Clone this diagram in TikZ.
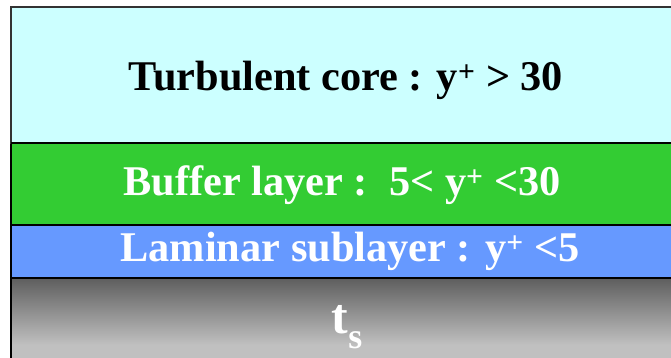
\documentclass[tikz,border=0pt]{standalone}
\usepackage{fontspec}
\setmainfont{Liberation Serif}
\definecolor{corecol}{HTML}{CCFFFF}
\definecolor{buffercol}{HTML}{33CC33}
\definecolor{laminarcol}{HTML}{6699FF}
\definecolor{walltop}{HTML}{5E5E5E}
\definecolor{wallbot}{HTML}{C0C0C0}
\begin{document}
\begin{tikzpicture}[x=1bp,y=-1bp,
  layer/.style={draw=black,line width=2bp},
  lbl/.style={font=\bfseries\fontsize{42.5}{46}\selectfont,inner sep=0pt}]
\useasboundingbox (0,0) rectangle (671,357);
% wall with gradient
\shade[top color=walltop,bottom color=wallbot] (11,278) rectangle (680,345);
\fill[wallbot] (11,345) rectangle (680,365);
\draw[line width=2bp] (11,278) -- (11,365);
% flow layers
\draw[layer,fill=laminarcol] (11,225) rectangle (690,278);
\draw[layer,fill=buffercol] (11,143) rectangle (690,225);
\draw[layer,fill=corecol,draw=black!80] (11,7) rectangle (690,143);
\draw[line width=2bp] (11,143) -- (690,143);
% labels
\node[lbl,text=black] (core) at (346,80) {Turbulent core : y\textsuperscript{+} > 30};
\node[lbl,text=white] (buffer) at (342,185) {Buffer layer :\ \ 5< y\textsuperscript{+} <30};
\node[lbl,text=white] (laminar) at (350,251) {Laminar sublayer : y\textsuperscript{+} <5};
\node[inner sep=0pt,anchor=base,text=white,font=\bfseries\fontsize{50}{54}\selectfont] (wall) at (347,333)
  {t\raisebox{-15bp}{\fontsize{36}{38}\selectfont s}};
\end{tikzpicture}
\end{document}
